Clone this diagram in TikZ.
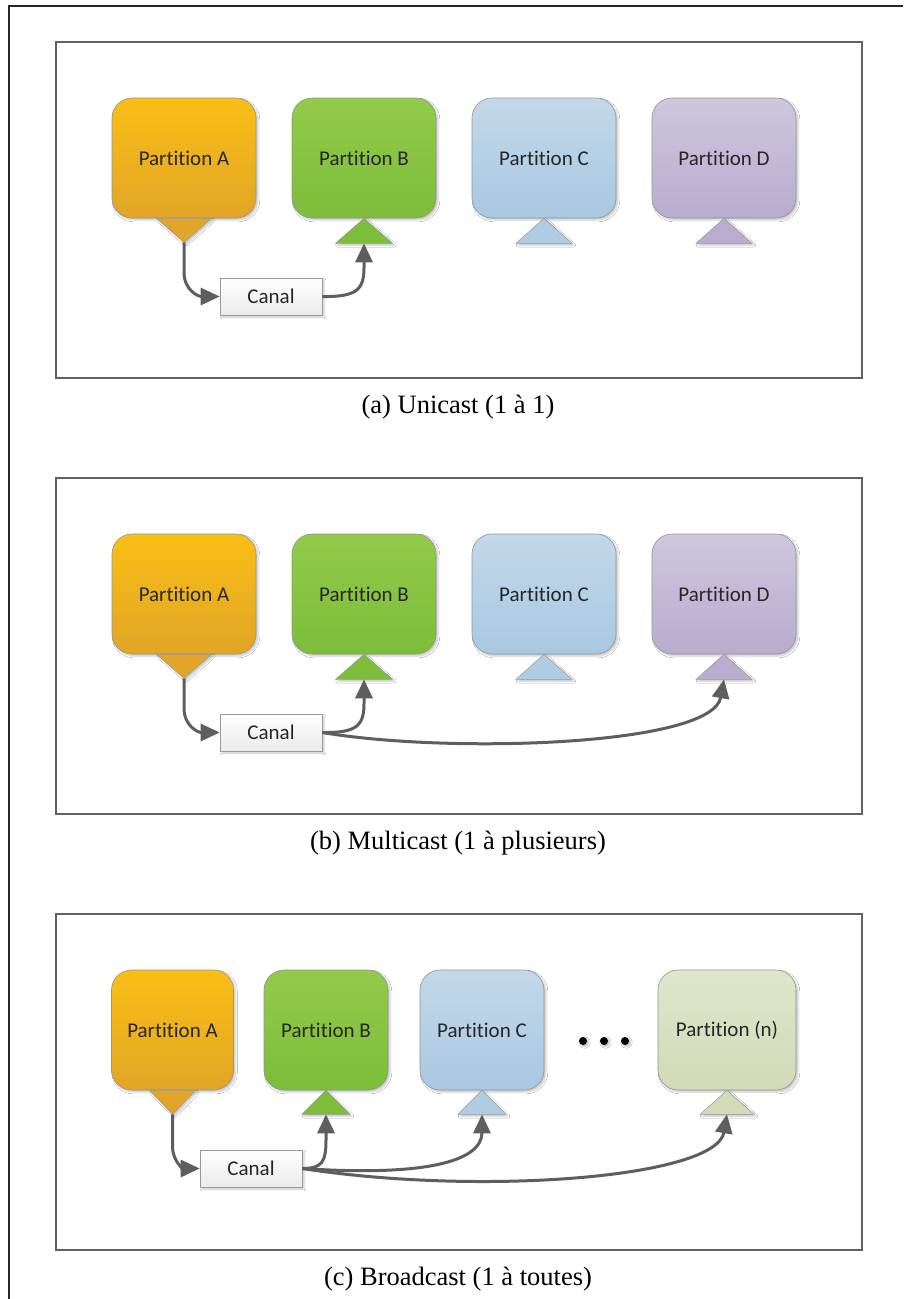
\documentclass[tikz,border=0pt]{standalone}
\usepackage{fontspec}
\setmainfont{Liberation Serif}
\newfontfamily\boxfont[Ligatures=NoCommon]{Carlito}
\usetikzlibrary{arrows.meta,shadows.blur,calc}

\definecolor{orTop}{HTML}{F9BF15}
\definecolor{orBot}{HTML}{E2A527}
\definecolor{grTop}{HTML}{93CA4A}
\definecolor{grBot}{HTML}{7CBD3A}
\definecolor{blTop}{HTML}{C3D8E9}
\definecolor{blBot}{HTML}{A9C8E1}
\definecolor{puTop}{HTML}{CEC7DE}
\definecolor{puBot}{HTML}{B9ACCE}
\definecolor{olTop}{HTML}{DFE6CC}
\definecolor{olBot}{HTML}{D2DAB8}
\definecolor{lineGrey}{HTML}{5E5E5E}

\begin{document}
\begin{tikzpicture}[x=1pt,y=-1pt,
  softshadow/.style={blur shadow={shadow xshift=2pt,shadow yshift=-2pt,
      shadow opacity=22,shadow blur steps=4}},
  panel/.style={draw=black!62,line width=1.6pt,minimum width=806pt,
      minimum height=336pt,inner sep=0pt},
  part/.style={draw=black!42,line width=0.6pt,rounded corners=20pt,
      minimum width=144pt,minimum height=120pt,inner sep=0pt,
      font=\boxfont\fontsize{21}{25}\selectfont,text=black!85,softshadow},
  narrow/.style={minimum width=122pt},
  canal/.style={draw=black!40,line width=0.6pt,top color=white,
      bottom color=black!8,minimum width=102pt,minimum height=37pt,
      inner sep=0pt,font=\boxfont\fontsize{21}{25}\selectfont,
      text=black!85,softshadow},
  tri/.style={draw=black!40,line width=0.5pt,softshadow},
  conn/.style={draw=lineGrey,line width=3pt,
      -{Triangle[length=19pt,width=17pt]}},
  caption/.style={anchor=base,font=\fontsize{26.5}{30}\selectfont},
  dot/.style={circle,fill=black,minimum size=8pt,inner sep=0pt,
      blur shadow={shadow xshift=1.5pt,shadow yshift=-1.5pt,
      shadow opacity=30,shadow blur steps=3}}
]
\useasboundingbox (0,0) rectangle (903,1299);
\fill[white] (0,0) rectangle (903,1299);

% page frame
\draw[line width=1.5pt,black!85] (9,1299) -- (9,6) -- (903,6);

% ---------------- (a) unicast ----------------
\node[panel] (pa) at (459,210) {};
\node[part,top color=orTop,bottom color=orBot] (a1) at (184,158) {Partition A};
\node[part,top color=grTop,bottom color=grBot] (b1) at (364,158) {Partition B};
\node[part,top color=blTop,bottom color=blBot] (c1) at (544,158) {Partition C};
\node[part,top color=puTop,bottom color=puBot] (d1) at (724,158) {Partition D};
\node[canal] (k1) at (271,296.5) {Canal};

\filldraw[tri,fill=orBot] ($(a1.south)+(-27.5,0)$) -- ($(a1.south)+(27.5,0)$)
  -- ($(a1.south)+(0,24)$) coordinate (a1t) -- cycle;
\filldraw[tri,fill=grBot] (b1.south) -- ($(b1.south)+(28.5,25)$)
  -- ($(b1.south)+(-28.5,25)$) -- cycle;
\coordinate (b1t) at ($(b1.south)+(0,25)$);
\filldraw[tri,fill=blBot!92!white] (c1.south) -- ($(c1.south)+(28,25)$)
  -- ($(c1.south)+(-28,25)$) -- cycle;
\filldraw[tri,fill=puBot] (d1.south) -- ($(d1.south)+(28,25)$)
  -- ($(d1.south)+(-28,25)$) -- cycle;

\draw[conn] (a1t) -- (184,272) .. controls (184,290) and (198,296.5) .. (k1.west);
\draw[conn] (k1.east) .. controls (356,297) and (364,290) .. (364,268) -- (b1t);

\node[caption] (capa) at (458,413) {(a) Unicast (1 à 1)};

% ---------------- (b) multicast ----------------
\node[panel] (pb) at (459,646) {};
\node[part,top color=orTop,bottom color=orBot] (a2) at (184,594) {Partition A};
\node[part,top color=grTop,bottom color=grBot] (b2) at (364,594) {Partition B};
\node[part,top color=blTop,bottom color=blBot] (c2) at (544,594) {Partition C};
\node[part,top color=puTop,bottom color=puBot] (d2) at (724,594) {Partition D};
\node[canal] (k2) at (271,732.5) {Canal};

\filldraw[tri,fill=orBot] ($(a2.south)+(-27.5,0)$) -- ($(a2.south)+(27.5,0)$)
  -- ($(a2.south)+(0,24)$) coordinate (a2t) -- cycle;
\filldraw[tri,fill=grBot] (b2.south) -- ($(b2.south)+(28.5,25)$)
  -- ($(b2.south)+(-28.5,25)$) -- cycle;
\coordinate (b2t) at ($(b2.south)+(0,25)$);
\filldraw[tri,fill=blBot!92!white] (c2.south) -- ($(c2.south)+(28,25)$)
  -- ($(c2.south)+(-28,25)$) -- cycle;
\filldraw[tri,fill=puBot] (d2.south) -- ($(d2.south)+(28,25)$)
  -- ($(d2.south)+(-28,25)$) -- cycle;
\coordinate (d2t) at ($(d2.south)+(0,25)$);

\draw[conn] (a2t) -- (184,708) .. controls (184,726) and (198,732.5) .. (k2.west);
\draw[conn] (k2.east) .. controls (356,733) and (364,726) .. (364,704) -- (b2t);
\draw[conn] (k2.east) .. controls (450,754) and (712,746) .. (d2t);

\node[caption] (capb) at (458,849) {(b) Multicast (1 à plusieurs)};

% ---------------- (c) broadcast ----------------
\node[panel] (pc) at (459,1082) {};
\node[part,narrow,top color=orTop,bottom color=orBot] (a3) at (172.5,1030) {Partition A};
\node[part,narrow,minimum width=124pt,top color=grTop,bottom color=grBot] (b3) at (326,1030) {Partition B};
\node[part,narrow,minimum width=124pt,top color=blTop,bottom color=blBot] (c3) at (482,1030) {Partition C};
\node[part,minimum width=138pt,top color=olTop,bottom color=olBot] (n3) at (727,1030) {Partition (n)};
\node[canal] (k3) at (251,1168.5) {Canal};

\node[dot] (e1) at (583,1041) {};
\node[dot] (e2) at (604,1041) {};
\node[dot] (e3) at (625,1041) {};

\filldraw[tri,fill=orBot] ($(a3.south)+(-23,0)$) -- ($(a3.south)+(23,0)$)
  -- ($(a3.south)+(0,24)$) coordinate (a3t) -- cycle;
\filldraw[tri,fill=grBot] (b3.south) -- ($(b3.south)+(24,24)$)
  -- ($(b3.south)+(-24,24)$) -- cycle;
\coordinate (b3t) at ($(b3.south)+(0,24)$);
\filldraw[tri,fill=blBot!92!white] (c3.south) -- ($(c3.south)+(24,24)$)
  -- ($(c3.south)+(-24,24)$) -- cycle;
\coordinate (c3t) at ($(c3.south)+(0,24)$);
\filldraw[tri,fill=olBot] (n3.south) -- ($(n3.south)+(27,24)$)
  -- ($(n3.south)+(-27,24)$) -- cycle;
\coordinate (n3t) at ($(n3.south)+(0,24)$);

\draw[conn] (a3t) -- (172.5,1146) .. controls (172.5,1162) and (184,1168.5) .. (k3.west);
\draw[conn] (k3.east) .. controls (322,1168.5) and (326,1162) .. (326,1140) -- (b3t);
\draw[conn] (k3.east) .. controls (430,1177) and (482,1160) .. (c3t);
\draw[conn] (k3.east) .. controls (480,1196) and (716,1178) .. (n3t);

\node[caption] (capc) at (458,1285) {(c) Broadcast (1 à toutes)};
\end{tikzpicture}
\end{document}
